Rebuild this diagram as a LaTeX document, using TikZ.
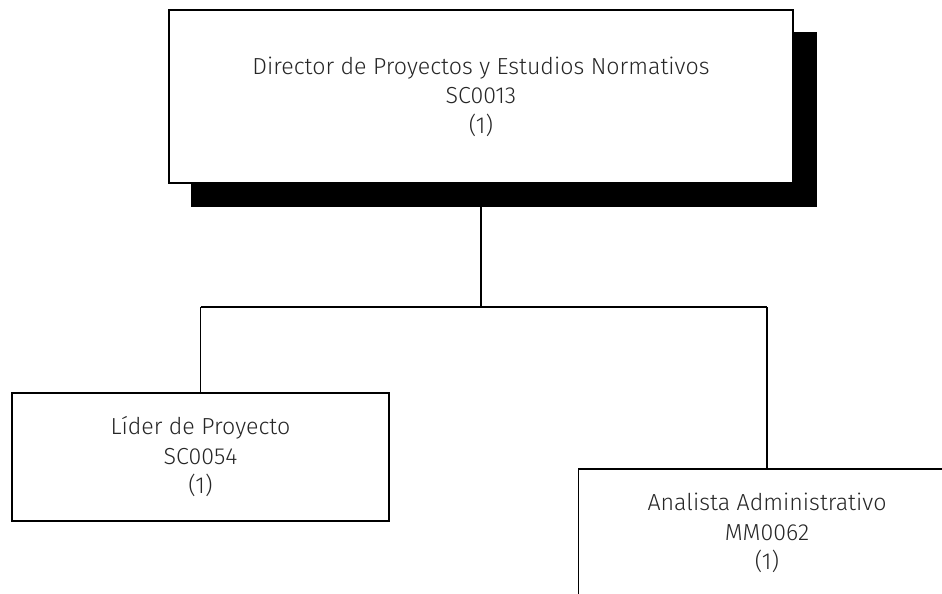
\documentclass[tikz,border=0pt]{standalone}
\usepackage{fontspec}
\setmainfont{Fira Sans}[UprightFont=* Light]
\begin{document}
\begin{tikzpicture}[x=1pt,y=1pt,
  post/.style={draw=black,line width=1.8pt,fill=white,inner sep=0pt,
    align=center,text=black!85,font=\fontsize{23.2}{29.5}\selectfont},
  link/.style={draw=black,line width=1.6pt}]
  \clip (0,0) rectangle (942,-594);
  \fill[white] (0,0) rectangle (942,-594);

  % positions
  \node[post,minimum width=624pt,minimum height=173pt] (dir) at (481,-96.5)
    {Director de Proyectos y Estudios Normativos\\SC0013\\(1)};
  \node[post,minimum width=377pt,minimum height=128pt] (lider) at (200.5,-457)
    {Líder de Proyecto\\SC0054\\(1)};
  \node[post,minimum width=377pt,minimum height=128pt] (analista) at (767,-533)
    {Analista Administrativo\\MM0062\\(1)};
  \coordinate (bus) at (481,-307);

  % connectors
  \draw[link] (dir.south) -- (dir.south |- bus);
  \draw[link] (lider.north |- bus) -- (analista.north |- bus);
  \draw[link] (lider.north |- bus) -- (lider.north);
  \draw[link] (analista.north |- bus) -- (analista.north);

  % drop shadow and director box on top
  \fill[black] ([shift={(23,-23)}]dir.south west) rectangle ([shift={(23,-23)}]dir.north east);
  \node[post,minimum width=624pt,minimum height=173pt] at (dir.center)
    {Director de Proyectos y Estudios Normativos\\SC0013\\(1)};
\end{tikzpicture}
\end{document}
